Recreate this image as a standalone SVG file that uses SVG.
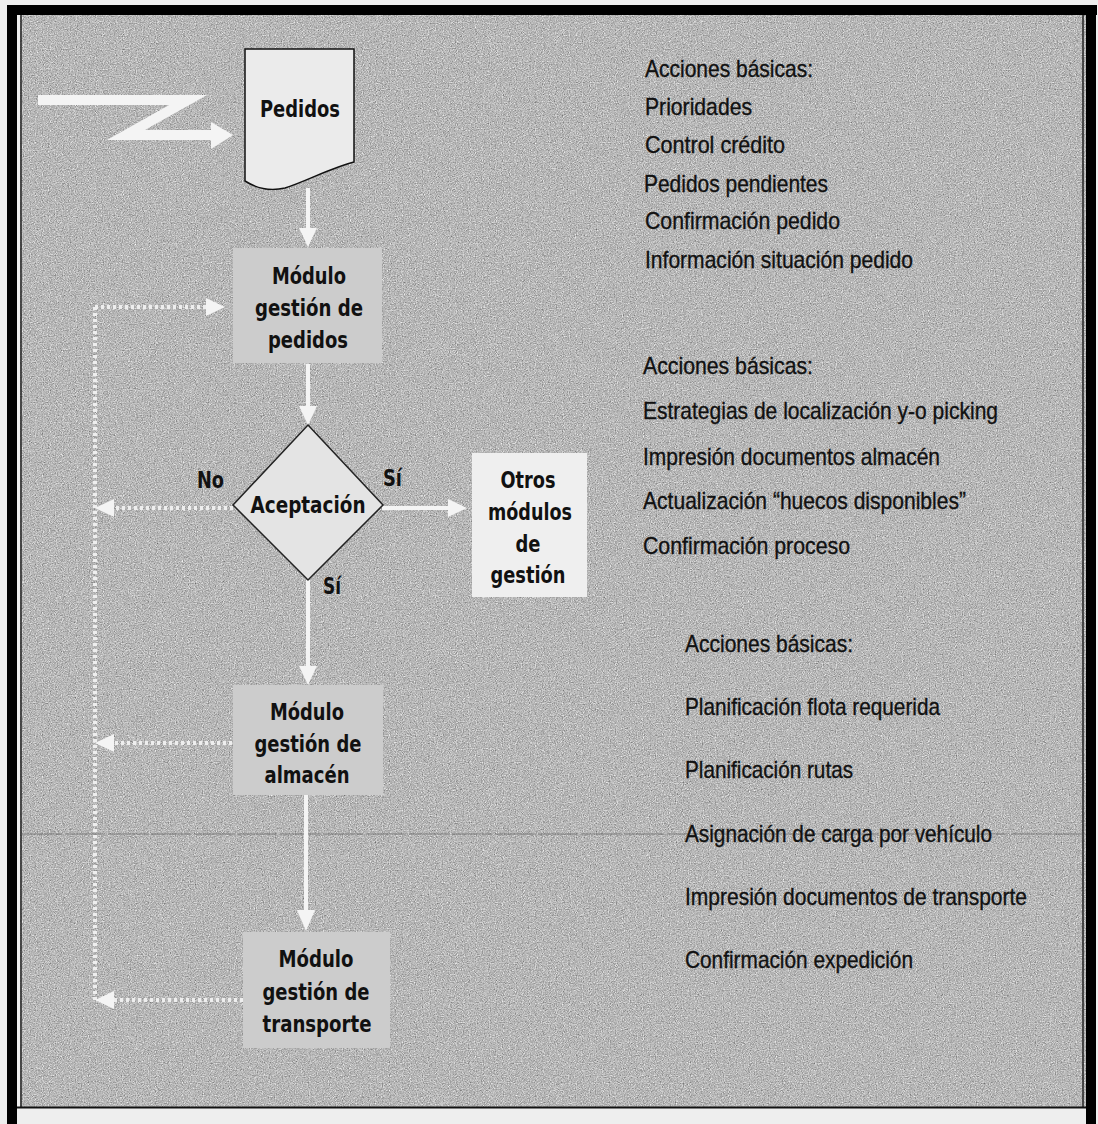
<svg xmlns="http://www.w3.org/2000/svg" width="1098" height="1124" viewBox="0 0 1098 1124">
  <style>
    .node { font-family: "DejaVu Sans", "Liberation Sans", sans-serif; font-weight: bold; font-size: 23px; fill: #111; text-anchor: middle; }
    .lbl { font-family: "DejaVu Sans", "Liberation Sans", sans-serif; font-weight: bold; font-size: 23px; fill: #111; }
    .txt { font-family: "Liberation Sans", Arial, sans-serif; font-size: 24px; fill: #111; stroke: #111; stroke-width: 0.35; }
    .solid { stroke: #f4f4f4; stroke-width: 4; fill: none; }
    .dotted { stroke: #eeeeee; stroke-width: 4; fill: none; stroke-dasharray: 3 3; }
    .head { fill: #f4f4f4; }
    .box { fill: #cccccc; }
  </style>
  <defs>
    <filter id="grain" x="0" y="0" width="100%" height="100%" color-interpolation-filters="sRGB">
      <feTurbulence type="fractalNoise" baseFrequency="0.85" numOctaves="3" seed="7" result="t"/>
      <feColorMatrix in="t" type="matrix" values="0.33 0.33 0.33 0 0  0.33 0.33 0.33 0 0  0.33 0.33 0.33 0 0  0 0 0 0 1" result="g"/>
      <feComponentTransfer in="g" result="c">
        <feFuncR type="linear" slope="1.0" intercept="0.22"/>
        <feFuncG type="linear" slope="1.0" intercept="0.22"/>
        <feFuncB type="linear" slope="1.0" intercept="0.22"/>
      </feComponentTransfer>
      <feComposite in="c" in2="SourceGraphic" operator="in"/>
    </filter>
  </defs>

  <!-- page -->
  <rect x="0" y="0" width="1098" height="1124" fill="#eeeeee"/>
  <rect x="20" y="14" width="1066" height="1094" fill="#aaaaaa" filter="url(#grain)"/>
  <!-- frame -->
  <rect x="7" y="5" width="1090" height="10" fill="#000"/>
  <rect x="7" y="5" width="10" height="1119" fill="#000"/>
  <rect x="1086" y="5" width="10" height="1119" fill="#000"/>
  <line x1="21" y1="15" x2="21" y2="1108" stroke="#222" stroke-width="1.5"/>
  <line x1="1083" y1="15" x2="1083" y2="1108" stroke="#222" stroke-width="1.5"/>
  <line x1="17" y1="1107.5" x2="1086" y2="1107.5" stroke="#111" stroke-width="2"/>
  <!-- scan line -->
  <line x1="22" y1="834" x2="1083" y2="834" stroke="#555" stroke-opacity="0.6" stroke-width="1" stroke-dasharray="40 3"/>

  <!-- connectors -->
  <g id="connectors">
    <!-- Z input arrow -->
    <polyline points="38,100 188,100 126,135 214,135" fill="none" stroke="#f4f4f4" stroke-width="10" stroke-linejoin="miter"/>
    <polygon class="head" points="211,122 233,135 211,149"/>
    <!-- Pedidos -> gestion pedidos -->
    <line class="solid" x1="308" y1="188" x2="308" y2="230"/>
    <polygon class="head" points="299,228 317,228 308,247"/>
    <!-- gestion pedidos -> diamond -->
    <line class="solid" x1="308" y1="364" x2="308" y2="408"/>
    <polygon class="head" points="299,406 317,406 308,425"/>
    <!-- diamond -> otros (Sí) -->
    <line class="solid" x1="382" y1="508" x2="450" y2="508"/>
    <polygon class="head" points="448,499 467,508 448,517"/>
    <!-- diamond -> almacen (Sí) -->
    <line class="solid" x1="308" y1="580" x2="308" y2="668"/>
    <polygon class="head" points="299,666 317,666 308,685"/>
    <!-- almacen -> transporte -->
    <line class="solid" x1="306" y1="795" x2="306" y2="912"/>
    <polygon class="head" points="297,910 315,910 306,931"/>
    <!-- dotted feedback loop -->
    <line class="dotted" x1="95" y1="307" x2="95" y2="1000"/>
    <line class="dotted" x1="95" y1="307" x2="208" y2="307"/>
    <polygon class="head" points="206,298 225,307 206,316"/>
    <line class="dotted" x1="233" y1="508" x2="112" y2="508"/>
    <polygon class="head" points="114,499 95,508 114,517"/>
    <line class="dotted" x1="232" y1="743" x2="112" y2="743"/>
    <polygon class="head" points="114,734 95,743 114,752"/>
    <line class="dotted" x1="243" y1="1000" x2="112" y2="1000"/>
    <polygon class="head" points="114,991 95,1000 114,1009"/>
  </g>

  <!-- nodes -->
  <g id="pedidos">
    <path d="M245,49 H354 V162 C330,168 305,182 285,188 C268,192 256,188 245,181 Z" fill="#ebebeb" stroke="#111" stroke-width="1.5"/>
    <text class="node" x="300" y="117" textLength="80" lengthAdjust="spacingAndGlyphs">Pedidos</text>
  </g>

  <g id="gestion-pedidos">
    <rect class="box" x="233" y="248" width="149" height="115"/>
    <text class="node" x="309" y="284" textLength="74" lengthAdjust="spacingAndGlyphs">Módulo</text>
    <text class="node" x="309" y="316" textLength="108" lengthAdjust="spacingAndGlyphs">gestión de</text>
    <text class="node" x="308" y="348" textLength="80" lengthAdjust="spacingAndGlyphs">pedidos</text>
  </g>

  <g id="aceptacion">
    <polygon points="308,425 383,505 308,580 233,505" fill="#e4e4e4" stroke="#222" stroke-width="1.5"/>
    <text class="node" x="308" y="513" textLength="115" lengthAdjust="spacingAndGlyphs">Aceptación</text>
    <text class="lbl" x="197" y="488" textLength="27" lengthAdjust="spacingAndGlyphs">No</text>
    <text class="lbl" x="383" y="486" textLength="19" lengthAdjust="spacingAndGlyphs">Sí</text>
    <text class="lbl" x="323" y="594" textLength="18" lengthAdjust="spacingAndGlyphs">Sí</text>
  </g>

  <g id="otros">
    <rect x="472" y="453" width="115" height="144" fill="#efefef"/>
    <text class="node" x="528" y="488" textLength="55" lengthAdjust="spacingAndGlyphs">Otros</text>
    <text class="node" x="530" y="520" textLength="84" lengthAdjust="spacingAndGlyphs">módulos</text>
    <text class="node" x="528" y="552" textLength="25" lengthAdjust="spacingAndGlyphs">de</text>
    <text class="node" x="528" y="583" textLength="75" lengthAdjust="spacingAndGlyphs">gestión</text>
  </g>

  <g id="gestion-almacen">
    <rect class="box" x="233" y="685" width="150" height="110"/>
    <text class="node" x="307" y="720" textLength="74" lengthAdjust="spacingAndGlyphs">Módulo</text>
    <text class="node" x="308" y="752" textLength="107" lengthAdjust="spacingAndGlyphs">gestión de</text>
    <text class="node" x="307" y="783" textLength="85" lengthAdjust="spacingAndGlyphs">almacén</text>
  </g>

  <g id="gestion-transporte">
    <rect class="box" x="243" y="932" width="147" height="116"/>
    <text class="node" x="316" y="967" textLength="75" lengthAdjust="spacingAndGlyphs">Módulo</text>
    <text class="node" x="316" y="1000" textLength="107" lengthAdjust="spacingAndGlyphs">gestión de</text>
    <text class="node" x="317" y="1032" textLength="109" lengthAdjust="spacingAndGlyphs">transporte</text>
  </g>

  <!-- right-hand texts -->
  <g id="acciones-pedidos">
    <text class="txt" x="645" y="77" textLength="168" lengthAdjust="spacingAndGlyphs">Acciones básicas:</text>
    <text class="txt" x="645" y="115" textLength="107" lengthAdjust="spacingAndGlyphs">Prioridades</text>
    <text class="txt" x="645" y="153" textLength="140" lengthAdjust="spacingAndGlyphs">Control crédito</text>
    <text class="txt" x="644" y="192" textLength="184" lengthAdjust="spacingAndGlyphs">Pedidos pendientes</text>
    <text class="txt" x="645" y="229" textLength="195" lengthAdjust="spacingAndGlyphs">Confirmación pedido</text>
    <text class="txt" x="645" y="268" textLength="268" lengthAdjust="spacingAndGlyphs">Información situación pedido</text>
  </g>

  <g id="acciones-almacen">
    <text class="txt" x="643" y="374" textLength="170" lengthAdjust="spacingAndGlyphs">Acciones básicas:</text>
    <text class="txt" x="643" y="419" textLength="355" lengthAdjust="spacingAndGlyphs">Estrategias de localización y-o picking</text>
    <text class="txt" x="643" y="465" textLength="297" lengthAdjust="spacingAndGlyphs">Impresión documentos almacén</text>
    <text class="txt" x="643" y="509" textLength="323" lengthAdjust="spacingAndGlyphs">Actualización “huecos disponibles”</text>
    <text class="txt" x="643" y="554" textLength="207" lengthAdjust="spacingAndGlyphs">Confirmación proceso</text>
  </g>

  <g id="acciones-transporte">
    <text class="txt" x="685" y="652" textLength="168" lengthAdjust="spacingAndGlyphs">Acciones básicas:</text>
    <text class="txt" x="685" y="715" textLength="255" lengthAdjust="spacingAndGlyphs">Planificación flota requerida</text>
    <text class="txt" x="685" y="778" textLength="168" lengthAdjust="spacingAndGlyphs">Planificación rutas</text>
    <text class="txt" x="685" y="842" textLength="307" lengthAdjust="spacingAndGlyphs">Asignación de carga por vehículo</text>
    <text class="txt" x="685" y="905" textLength="342" lengthAdjust="spacingAndGlyphs">Impresión documentos de transporte</text>
    <text class="txt" x="685" y="968" textLength="228" lengthAdjust="spacingAndGlyphs">Confirmación expedición</text>
  </g>
</svg>
